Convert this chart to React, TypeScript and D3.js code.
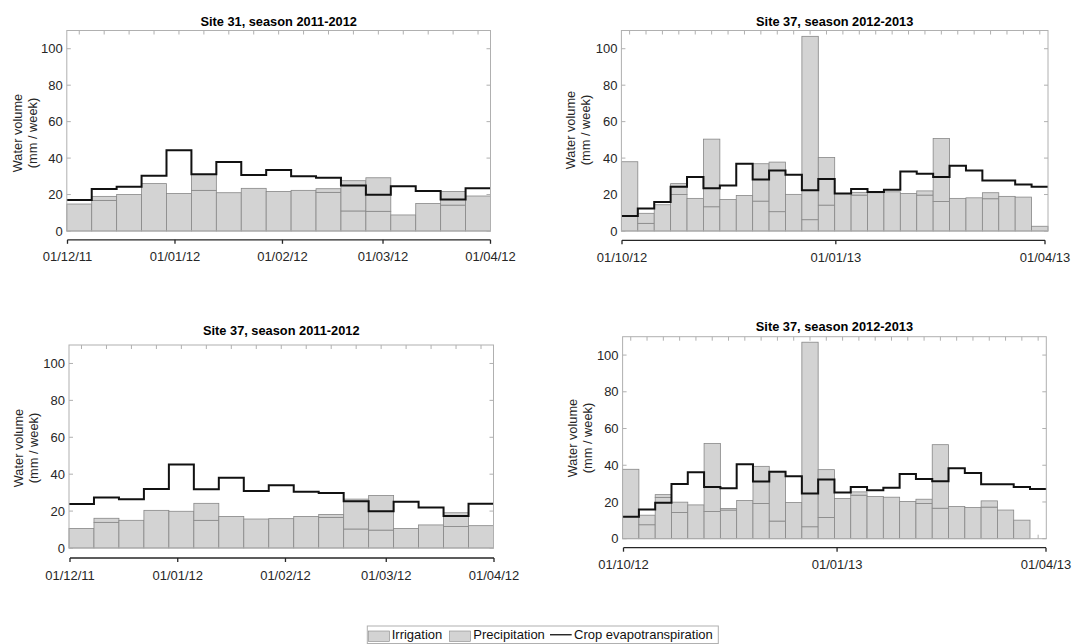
import React from "react";
import * as d3 from "d3";

// ---------- data ----------
// Site 31, season 2011-2012 (weekly, 01/12/11 – 01/04/12)
const irrigation1 = [14.8, 16.8, 20, 26, 20.6, 22.3, 21, 23.4, 21.7, 22.3, 21.2, 11, 10.8, 8.8, 15.1, 14.2, 19.2];
const precipitation1 = [0, 2.2, 0, 0, 0, 8.7, 0, 0, 0, 0, 2, 16.6, 18.4, 0, 0, 7.5, 0];
const et1 = [17, 23, 24.3, 30.3, 44.3, 31.2, 37.8, 30.7, 33.4, 30.1, 29.2, 25, 19.9, 24.5, 21.9, 17.3, 23.5];

// Site 37, season 2012-2013 (top)
const irrigation2 = [38, 4.2, 14.4, 20, 17.9, 13.3, 17.3, 19.5, 16.4, 10.6, 20.1, 6.2, 14.2, 20.6, 19.7, 21, 21.5, 20.6, 19.7, 16.2, 17.9, 18.2, 17.7, 19, 18.6, 2.6];
const precipitation2 = [0, 5.5, 0, 6, 0, 37.1, 0, 0, 20.5, 27.2, 0, 100.6, 26.1, 0, 1.5, 0, 0, 0, 2.3, 34.5, 0, 0, 3.3, 0, 0, 0];
const et2 = [8.2, 12.4, 15.9, 24.3, 29.6, 23.4, 25, 36.9, 28.3, 33.2, 30.8, 22.4, 28.5, 20.6, 23, 21.4, 22.6, 32.7, 31.4, 29.6, 35.8, 33.2, 27.7, 27.7, 25.5, 24.3];

// Site 37, season 2011-2012
const irrigation3 = [10.6, 13.9, 15, 20.4, 19.9, 15, 17.1, 15.7, 15.9, 17.1, 16.6, 10.3, 9.7, 10.6, 12.5, 11.6, 12.1];
const precipitation3 = [0, 2.2, 0, 0, 0, 9.2, 0, 0, 0, 0, 1.6, 16.2, 18.8, 0, 0, 7.5, 0];
const et3 = [23.8, 27.3, 26.4, 32, 45.3, 31.8, 38.1, 30.9, 34, 30.5, 29.8, 25.3, 19.9, 25, 22, 17.3, 24];

// Site 37, season 2012-2013 (bottom)
const irrigation4 = [37.8, 7.6, 22.5, 14.3, 18.4, 14.8, 15.6, 20.8, 19.2, 9.6, 19.7, 6.5, 11.6, 21.9, 23.7, 23, 22.6, 20.3, 19.2, 16.6, 17.5, 17, 17.2, 15.6, 10.1, 0];
const precipitation4 = [0, 5.2, 1.5, 5.6, 0, 37.1, 0.9, 0, 20.2, 27.1, 0, 100.5, 26, 0, 1.8, 0, 0, 0, 2.3, 34.6, 0, 0, 3.4, 0, 0, 0];
const et4 = [11.9, 15.9, 19.6, 29.8, 36.2, 28.2, 27.5, 40.5, 31.1, 36.5, 34, 24.6, 32.2, 25.1, 28.2, 26.4, 27.7, 35.3, 32.5, 31.3, 38.3, 35.8, 29.7, 29.7, 28.2, 27];

const titles = ["Site 31, season 2011-2012", "Site 37, season 2012-2013", "Site 37, season 2011-2012", "Site 37, season 2012-2013"];
const yTicks = [0, 20, 40, 60, 80, 100];
const yMax = 110;
const season1Dates = ["2011-12-01", "2012-01-01", "2012-02-01", "2012-03-01", "2012-04-01"];
const season2Dates = ["2012-10-01", "2013-01-01", "2013-04-01"];
const legendLabels = ["Irrigation", "Precipitation", "Crop evapotranspiration"];
const yLabel = ["Water volume", "(mm / week)"];

// ---------- layout ----------
const FONT = "'Liberation Sans', Arial, Helvetica, sans-serif";
const BAR_FILL = "#d3d3d3";
const BAR_EDGE = "#878787";
const BOX = "#b0b0b0";
const AX = "#262626";
const FS = 13;

type PanelCfg = {
  title: string;
  irr: number[];
  pre: number[];
  et: number[];
  dates: string[];
  x0: number; x1: number; yTop: number; yZero: number;
  axY: number; axX0: number; axX1: number;
  titleY: number; ylx: [number, number]; yly: number;
};

const parse = d3.timeParse("%Y-%m-%d");
const fmt = d3.timeFormat("%d/%m/%y");

const panels: PanelCfg[] = [
  { title: titles[0], irr: irrigation1, pre: precipitation1, et: et1, dates: season1Dates,
    x0: 66.8, x1: 490.5, yTop: 30.5, yZero: 231, axY: 239.8, axX0: 67.5, axX1: 490.5, titleY: 21, ylx: [17, 32.5], yly: 133 },
  { title: titles[1], irr: irrigation2, pre: precipitation2, et: et2, dates: season2Dates,
    x0: 621.4, x1: 1048, yTop: 30.5, yZero: 231, axY: 240.3, axX0: 622, axX1: 1045, titleY: 21.5, ylx: [570.5, 585.5], yly: 130 },
  { title: titles[2], irr: irrigation3, pre: precipitation3, et: et3, dates: season1Dates,
    x0: 69, x1: 493.5, yTop: 345, yZero: 548, axY: 558, axX0: 70, axX1: 494, titleY: 330.5, ylx: [18.5, 33.5], yly: 448 },
  { title: titles[3], irr: irrigation4, pre: precipitation4, et: et4, dates: season2Dates,
    x0: 622.6, x1: 1046.3, yTop: 336.7, yZero: 538.7, axY: 547.7, axX0: 623.5, axX1: 1046, titleY: 326.5, ylx: [572, 587.5], yly: 438 },
];

function Panel({ p }: { p: PanelCfg }) {
  const n = p.irr.length;
  const xb = d3.scaleLinear().domain([0, n]).range([p.x0, p.x1]);
  const y = d3.scaleLinear().domain([0, yMax]).range([p.yZero, p.yTop]);
  const dates = p.dates.map((s) => parse(s) as Date);
  const xd = d3.scaleTime().domain([dates[0], dates[dates.length - 1]]).range([p.axX0, p.axX1]);

  const etPts: [number, number][] = p.et.map((v, i) => [xb(i), y(v)] as [number, number]);
  etPts.push([xb(n), y(p.et[n - 1])]);
  const stepLine = d3.line().curve(d3.curveStepAfter)(etPts) || "";

  const tickLen = 4;
  const boxW = p.x1 - p.x0;
  const boxH = p.yZero - p.yTop;

  return (
    <g>
      {/* box ticks (drawn under data) */}
      {d3.range(n).map((i) => (
        <g key={"bt" + i}>
          <line x1={xb(i + 0.5)} x2={xb(i + 0.5)} y1={p.yTop} y2={p.yTop + tickLen} stroke={BOX} strokeWidth={1} />
          <line x1={xb(i + 0.5)} x2={xb(i + 0.5)} y1={p.yZero} y2={p.yZero - tickLen} stroke={BOX} strokeWidth={1} />
        </g>
      ))}
      {yTicks.map((t) => (
        <g key={"yt" + t}>
          <line x1={p.x0} x2={p.x0 + tickLen} y1={y(t)} y2={y(t)} stroke={BOX} strokeWidth={1} />
          <line x1={p.x1} x2={p.x1 - tickLen} y1={y(t)} y2={y(t)} stroke={BOX} strokeWidth={1} />
        </g>
      ))}
      {/* stacked bars */}
      {p.irr.map((v, i) => {
        const tot = v + p.pre[i];
        if (tot <= 0) return null;
        return (
          <g key={"b" + i}>
            <rect x={xb(i)} width={xb(i + 1) - xb(i)} y={y(v)} height={y(0) - y(v)} fill={BAR_FILL} stroke={BAR_EDGE} strokeWidth={0.8} />
            {p.pre[i] > 0 && (
              <rect x={xb(i)} width={xb(i + 1) - xb(i)} y={y(tot)} height={y(v) - y(tot)} fill={BAR_FILL} stroke={BAR_EDGE} strokeWidth={0.8} />
            )}
          </g>
        );
      })}
      {/* ET step line */}
      <path d={stepLine} fill="none" stroke="#111" strokeWidth={2} />
      {/* box */}
      <rect x={p.x0} y={p.yTop} width={boxW} height={boxH} fill="none" stroke={BOX} strokeWidth={1} />
      {/* y tick labels */}
      {yTicks.map((t) => (
        <text key={"yl" + t} x={p.x0 - 4} y={y(t)} dy="0.36em" textAnchor="end" fontSize={FS} fill={AX} fontFamily={FONT}>
          {t}
        </text>
      ))}
      {/* date axis */}
      <line x1={p.axX0} x2={p.axX1} y1={p.axY} y2={p.axY} stroke={AX} strokeWidth={1.3} />
      {dates.map((d, i) => (
        <g key={"d" + i}>
          <line x1={xd(d)} x2={xd(d)} y1={p.axY} y2={p.axY + 4} stroke={AX} strokeWidth={1.3} />
          <text x={xd(d)} y={p.axY + 17} dy="0.36em" textAnchor="middle" fontSize={FS} fill={AX} fontFamily={FONT}>
            {fmt(d)}
          </text>
        </g>
      ))}
      {/* title */}
      <text x={(p.x0 + p.x1) / 2} y={p.titleY} dy="0.36em" textAnchor="middle" fontSize={12.8} fontWeight="bold" fill="#000" fontFamily={FONT}>
        {p.title}
      </text>
      {/* y label */}
      {yLabel.map((s, k) => (
        <text key={"ylab" + k} transform={`translate(${p.ylx[k]},${p.yly}) rotate(-90)`} dy="0.36em" textAnchor="middle" fontSize={12.8} fill={AX} fontFamily={FONT}>
          {s}
        </text>
      ))}
    </g>
  );
}

function Legend() {
  const lx0 = 367.3, lx1 = 718.3, ly0 = 626, ly1 = 643.5;
  const cy = (ly0 + ly1) / 2;
  return (
    <g fontFamily={FONT} fontSize={13} fill="#111">
      <rect x={lx0} y={ly0} width={lx1 - lx0} height={ly1 - ly0} fill="#fff" stroke={BOX} strokeWidth={1} />
      <rect x={368.5} y={631} width={21} height={10.5} fill={BAR_FILL} stroke={BAR_EDGE} strokeWidth={0.6} />
      <text x={391.7} y={cy} dy="0.36em">{legendLabels[0]}</text>
      <rect x={449.5} y={631} width={21} height={10.5} fill={BAR_FILL} stroke={BAR_EDGE} strokeWidth={0.6} />
      <text x={473.3} y={cy} dy="0.36em">{legendLabels[1]}</text>
      <line x1={550} x2={571.7} y1={cy} y2={cy} stroke="#111" strokeWidth={1.3} />
      <text x={574} y={cy} dy="0.36em">{legendLabels[2]}</text>
    </g>
  );
}

export default function App() {
  return (
    <svg width={1072} height={644} style={{ position: "absolute", left: 0, top: 0, background: "#fff" }}>
      <rect x={0} y={0} width={1072} height={644} fill="#fff" />
      {panels.map((p, i) => (
        <Panel key={i} p={p} />
      ))}
      <Legend />
    </svg>
  );
}
